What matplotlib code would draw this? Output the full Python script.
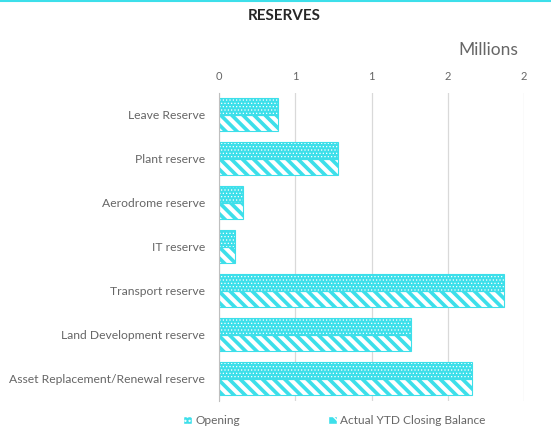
import matplotlib
matplotlib.use("Agg")
import matplotlib.pyplot as plt
import numpy as np
from matplotlib.patches import Patch

# Reserve balances in millions
categories = ["Leave Reserve", "Plant reserve", "Aerodrome reserve", "IT reserve",
              "Transport reserve", "Land Development reserve",
              "Asset Replacement/Renewal reserve"]
opening = [0.385, 0.78, 0.156, 0.104, 1.867, 1.256, 1.656]
closing = [0.385, 0.78, 0.156, 0.104, 1.867, 1.256, 1.656]
tick_values = [0, 0.5, 1.0, 1.5, 2.0]
tick_labels = ["0", "1", "1", "2", "2"]

CYAN = "#3ddfea"
GREY = "#666666"

plt.rcParams["font.family"] = ["Lato", "DejaVu Sans"]

fig = plt.figure(figsize=(5.51, 4.33), dpi=100)
ax = fig.add_axes([0.3975, 0.074, 0.5535, 0.712])

y = np.arange(len(categories))
h = 0.375

# opening: cyan with white dots
with plt.rc_context({"hatch.linewidth": 0.5}):
    ax.barh(y - h / 2, opening, height=h, color=CYAN, edgecolor="white",
            hatch=".....", linewidth=0, zorder=2)
# closing: cyan with white diagonal stripes
with plt.rc_context({"hatch.linewidth": 3.0}):
    ax.barh(y + h / 2, closing, height=h, color=CYAN, edgecolor="white",
            hatch="\\\\\\", linewidth=0, zorder=2)
# cyan outline over each bar
ax.barh(y - h / 2, opening, height=h, fill=False, edgecolor=CYAN, linewidth=0.8, zorder=3)
ax.barh(y + h / 2, closing, height=h, fill=False, edgecolor=CYAN, linewidth=0.8, zorder=3)

ax.set_xlim(0, 2.0)
ax.set_ylim(len(categories) - 0.5, -0.5)
ax.set_xticks(tick_values)
ax.set_xticklabels(tick_labels)
ax.xaxis.tick_top()
ax.set_yticks(y)
ax.set_yticklabels(categories)
ax.tick_params(axis="both", length=0, labelsize=8.7, colors=GREY)
ax.tick_params(axis="x", labelsize=8)
ax.tick_params(axis="y", pad=10)
ax.tick_params(axis="x", pad=8)
ax.grid(axis="x", color="#d9d9d9", linewidth=0.9, zorder=0)
for s in ["top", "right", "bottom"]:
    ax.spines[s].set_visible(False)
ax.spines["left"].set_color("#bfbfbf")
ax.spines["left"].set_zorder(4)

fig.text(0.515, 0.963, "RESERVES", ha="center", va="center", fontsize=11,
         fontweight="bold", color="#262626")
fig.text(0.886, 0.884, "Millions", ha="center", va="center", fontsize=12.5, color=GREY)

# border line along the top of the figure
fig.add_artist(plt.Line2D([0, 1], [0.998, 0.998], color=CYAN, linewidth=1.5))

with plt.rc_context({"hatch.linewidth": 1.2}):
    handles = [Patch(facecolor=CYAN, edgecolor="white", hatch="...."),
               Patch(facecolor=CYAN, edgecolor="white", hatch="\\\\")]
fig.legend(handles, ["Opening", "Actual YTD Closing Balance"], loc="center",
           bbox_to_anchor=(0.607, 0.028), ncol=2, frameon=False, fontsize=8.6,
           labelcolor=GREY, handlelength=0.7, handleheight=0.7,
           handletextpad=0.3, columnspacing=7.4)

fig.savefig("out.png", dpi=100)
